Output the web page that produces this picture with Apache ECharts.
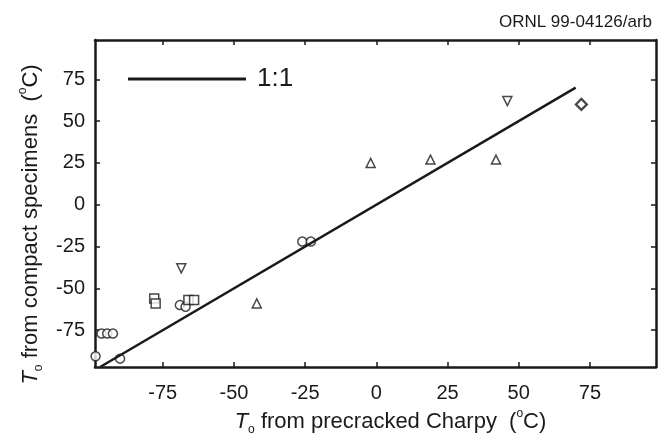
<!DOCTYPE html>
<html>
<head>
<meta charset="utf-8">
<script src="https://cdn.jsdelivr.net/npm/echarts@6/dist/echarts.min.js"></script>
<style>
  html, body { margin: 0; padding: 0; background: #fff; }
  #chart { width: 659px; height: 443px; }
</style>
</head>
<body>
<div id="chart"></div>
<script>
// tick labels shared by both axes
const tickValues = [-75, -50, -25, 0, 25, 50, 75];

// To from precracked Charpy (x) vs To from compact specimens (y), by marker
const circles = [[-98.6, -90.6], [-90, -92], [-96.5, -77], [-94.5, -77], [-92.5, -77], [-69, -60], [-67, -61], [-26, -22], [-23, -22]];
const squares = [[-78, -56], [-77.5, -59], [-66, -57], [-64, -57]];
const upTriangles = [[-42, -59], [-2, 25], [19, 27], [42, 27]];
const downTriangles = [[-68.5, -38], [46, 62]];
const diamonds = [[72, 60]];
const oneToOne = [[-97, -97], [70, 70]];

const chart = echarts.init(document.getElementById("chart"));

const ink = "#1a1a1a";
const font = "Liberation Sans, Arial, sans-serif";

const markerStyle = {
  color: "#fff",
  borderColor: ink,
  borderWidth: 1.5,
};

const nameRich = {
  t: { fontStyle: "italic", fontSize: 22, fontFamily: font, color: ink, lineHeight: 28 },
  sub: { fontSize: 12, fontFamily: font, color: ink, verticalAlign: "bottom", lineHeight: 28 },
  n: { fontSize: 22, fontFamily: font, color: ink, lineHeight: 28 },
  sup: { fontSize: 12, fontFamily: font, color: ink, verticalAlign: "top", lineHeight: 28 },
};

const baseAxis = {
  type: "value",
  axisLine: { onZero: false, lineStyle: { color: ink, width: 2.5 } },
  axisTick: { inside: true, length: 5, customValues: tickValues, lineStyle: { color: ink, width: 1.5 } },
  axisLabel: { customValues: tickValues, fontSize: 20, fontFamily: font, color: ink },
  splitLine: { show: false },
};

const option = {
  animation: false,
  title: {
    text: "ORNL 99-04126/arb",
    right: 2,
    top: 9,
    textStyle: { fontSize: 17, fontWeight: "normal", fontFamily: font, color: ink },
  },
  legend: {
    data: ["1:1"],
    left: 128,
    top: 66,
    padding: 0,
    icon: "rect",
    itemWidth: 118,
    itemHeight: 3,
    itemStyle: { color: ink },
    textStyle: { fontSize: 26, fontFamily: font, color: ink, padding: [0, 0, 0, 6] },
  },
  grid: { left: 95, top: 40, right: 3, bottom: 76 },
  xAxis: [
    {
      ...baseAxis,
      min: -98.8,
      max: 98.2,
      axisLabel: { ...baseAxis.axisLabel, margin: 16 },
      name: "{t|T}{sub|o}{n| from precracked Charpy  (}{sup|o}{n|C)}",
      nameLocation: "middle",
      nameGap: 38,
      nameTextStyle: { rich: nameRich, padding: [0, 0, 0, 30] },
    },
    {
      ...baseAxis,
      position: "top",
      min: -98.8,
      max: 98.2,
      axisLabel: { show: false },
    },
  ],
  yAxis: [
    {
      ...baseAxis,
      min: -97,
      max: 98.5,
      axisLabel: { ...baseAxis.axisLabel, margin: 10 },
      name: "{t|T}{sub|o}{n| from compact specimens  (}{sup|o}{n|C)}",
      nameLocation: "middle",
      nameGap: 50,
      nameTextStyle: { rich: nameRich, padding: [0, 42, 0, 0] },
    },
    {
      ...baseAxis,
      position: "right",
      min: -97,
      max: 98.5,
      axisLabel: { show: false },
    },
  ],
  series: [
    {
      name: "1:1",
      type: "line",
      data: oneToOne,
      showSymbol: false,
      symbol: "none",
      itemStyle: { color: ink },
      lineStyle: { color: ink, width: 2.5 },
    },
    {
      name: "circle",
      type: "scatter",
      data: circles,
      symbol: "circle",
      symbolSize: 9,
      itemStyle: markerStyle,
    },
    {
      name: "square",
      type: "scatter",
      data: squares,
      symbol: "rect",
      symbolSize: 9,
      itemStyle: markerStyle,
    },
    {
      name: "up",
      type: "scatter",
      data: upTriangles,
      symbol: "triangle",
      symbolSize: 9,
      itemStyle: markerStyle,
    },
    {
      name: "down",
      type: "scatter",
      data: downTriangles,
      symbol: "triangle",
      symbolRotate: 180,
      symbolSize: 9,
      itemStyle: markerStyle,
    },
    {
      name: "diamond",
      type: "scatter",
      data: diamonds,
      symbol: "diamond",
      symbolSize: 11,
      itemStyle: { ...markerStyle, borderWidth: 2.2 },
    },
  ],
};

chart.setOption(option);
</script>
</body>
</html>
